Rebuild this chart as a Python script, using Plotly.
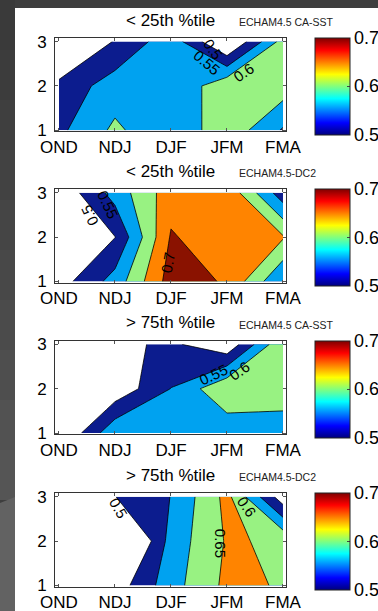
import plotly.graph_objects as go

W, H = 378, 611

# ---------------- data ----------------
seasons = ["OND", "NDJ", "DJF", "JFM", "FMA"]
x_vals = [1, 2, 3, 4, 5]
y_vals = [1, 2, 3]
y_ticktext = ["1", "2", "3"]

titles = ["< 25th %tile", "< 25th %tile", "> 75th %tile", "> 75th %tile"]
models = ["ECHAM4.5 CA-SST", "ECHAM4.5-DC2", "ECHAM4.5 CA-SST", "ECHAM4.5-DC2"]

# rows = y (1,2,3), columns = seasons
z_p25_casst = [
    [0.539, 0.610, 0.557, 0.635, 0.545],
    [0.517, 0.574, 0.551, 0.640, 0.627],
    [0.400, 0.505, 0.580, 0.435, 0.620],
]
z_p25_dc2 = [
    [0.477, 0.570, 0.723, 0.695, 0.550],
    [0.440, 0.499, 0.705, 0.667, 0.655],
    [0.460, 0.570, 0.678, 0.688, 0.520],
]
z_p75_casst = [
    [0.440, 0.590, 0.580, 0.563, 0.570],
    [0.430, 0.463, 0.551, 0.645, 0.630],
    [0.450, 0.487, 0.510, 0.460, 0.645],
]
z_p75_dc2 = [
    [0.420, 0.471, 0.580, 0.662, 0.646],
    [0.400, 0.370, 0.570, 0.655, 0.643],
    [0.350, 0.499, 0.551, 0.665, 0.470],
]
panels_z = [z_p25_casst, z_p25_dc2, z_p75_casst, z_p75_dc2]

level_start, level_end, level_step = 0.5, 0.7, 0.05
cbar_ticks = [0.5, 0.6, 0.7]
cbar_ticktext = ["0.5", "0.6", "0.7"]

# contour labels: (text, x, y, angle)
contour_labels = [
    [("0.5", 3.75, 2.81, 55), ("0.55", 3.64, 2.52, 40), ("0.6", 4.29, 2.31, -35)],
    [("0.5", 1.55, 2.50, -115), ("0.55", 1.87, 2.73, 65), ("0.7", 2.95, 1.42, -80)],
    [("0.55", 3.76, 2.31, -25), ("0.6", 4.23, 2.41, -35)],
    [("0.5", 2.07, 2.74, 60), ("0.65", 3.875, 1.94, 90), ("0.6", 4.35, 2.77, 55)],
]

# ---------------- styling ----------------
FONT = "Liberation Sans, Arial, sans-serif"
c_white, c_dblue, c_lblue, c_green, c_orange, c_dred = (
    "#ffffff", "#0c1c8e", "#00a2f0", "#98f282", "#ff8400", "#8a1200")
fill_scale = [
    [0.0, c_white], [0.1, c_white],
    [0.1, c_dblue], [0.3, c_dblue],
    [0.3, c_lblue], [0.5, c_lblue],
    [0.5, c_green], [0.7, c_green],
    [0.7, c_orange], [0.9, c_orange],
    [0.9, c_dred], [1.0, c_dred],
]
jet = [
    [0.0, "#00007f"], [0.125, "#0000ff"], [0.375, "#00ffff"],
    [0.625, "#ffff00"], [0.875, "#ff0000"], [1.0, "#7f0000"],
]

ax_left, ax_right = 55, 286
box_tops = [38, 189.2, 340.8, 493.2]
box_h = 93.3
cb_left, cb_w, cb_len = 315, 35, 97

def px_x(p):
    return p / W

def px_y(p):
    return 1 - p / H

fig = go.Figure()
layout_axes = {}
annotations = []
shapes = []

# background: dark slide + white panel
shapes.append(dict(type="rect", xref="paper", yref="paper", x0=0, x1=1, y0=0, y1=1,
                   fillcolor="#3e3e3e", line_width=0, layer="below"))
grad = ["#3a3a3a", "#3c3c3c", "#3f3f3f", "#424242", "#454545", "#484848",
        "#4b4b4b", "#4e4e4e", "#525252", "#555555"]
for i, col in enumerate(grad):
    shapes.append(dict(type="rect", xref="paper", yref="paper",
                       x0=0, x1=px_x(15), y0=px_y(50 * (i + 1)), y1=px_y(50 * i),
                       fillcolor=col, line_width=0, layer="below"))
shapes.append(dict(type="path", xref="paper", yref="paper",
                   path=f"M 0 {px_y(503)} L {px_x(15)} {px_y(497)} L {px_x(15)} 0 L 0 0 Z",
                   fillcolor="#626262", line_width=0, layer="below"))
shapes.append(dict(type="rect", xref="paper", yref="paper",
                   x0=px_x(15), x1=1, y0=0, y1=px_y(8),
                   fillcolor="white", line_width=0, layer="below"))

for k in range(4):
    xa = "xaxis" if k == 0 else f"xaxis{k+1}"
    ya = "yaxis" if k == 0 else f"yaxis{k+1}"
    xr = "x" if k == 0 else f"x{k+1}"
    yr = "y" if k == 0 else f"y{k+1}"
    top = box_tops[k]
    bot = top + box_h

    fig.add_trace(go.Contour(
        x=x_vals, y=y_vals, z=panels_z[k],
        autocontour=False,
        contours=dict(start=level_start, end=level_end, size=level_step,
                      coloring="fill", showlines=True),
        colorscale=fill_scale, showscale=False,
        line=dict(color="black", width=0.8, smoothing=0),
        xaxis=xr, yaxis=yr, hoverinfo="skip",
    ))
    # colorbar carrier (labels drawn as annotations so they can run off the edge)
    fig.add_trace(go.Scatter(
        x=[3], y=[50], mode="markers", xaxis=xr, yaxis=yr,
        showlegend=False, hoverinfo="skip",
        marker=dict(color=[level_start], cmin=level_start, cmax=level_end,
                    colorscale=jet, showscale=True, size=1,
                    colorbar=dict(
                        thickness=cb_w, thicknessmode="pixels",
                        len=cb_len, lenmode="pixels",
                        x=px_x(cb_left), xanchor="left",
                        y=px_y(top), yanchor="top",
                        xpad=0, ypad=0,
                        outlinecolor="#222", outlinewidth=1,
                        tickvals=cbar_ticks, showticklabels=False,
                        ticks="inside", ticklen=3, tickcolor="#444",
                    )),
    ))
    for tv, tt in zip(cbar_ticks, cbar_ticktext):
        frac = (tv - level_start) / (level_end - level_start)
        annotations.append(dict(text=tt, xref="paper", yref="paper",
                                x=px_x(cb_left + cb_w + 2), xanchor="left",
                                y=px_y(top + cb_len * (1 - frac)), yanchor="middle",
                                showarrow=False,
                                font=dict(family=FONT, size=18, color="black")))

    axis_common = dict(showline=True, linecolor="#333", linewidth=1, mirror="ticks",
                       ticks="inside", ticklen=3, tickcolor="#555", automargin=False,
                       showgrid=False, zeroline=False, fixedrange=True,
                       tickfont=dict(family=FONT, size=17, color="black"))
    layout_axes[xa] = dict(axis_common, domain=[px_x(ax_left), px_x(ax_right)],
                           range=[0.929, 5.054], tickvals=x_vals, ticktext=seasons,
                           anchor=yr, ticklabelstandoff=0)
    layout_axes[ya] = dict(axis_common, domain=[px_y(bot), px_y(top)],
                           range=[0.977, 3.08], tickvals=y_vals, ticktext=y_ticktext,
                           anchor=xr, ticklabelstandoff=4)

    annotations.append(dict(text=titles[k], xref="paper", yref="paper",
                            x=px_x(170.5), y=px_y(top - 18), xanchor="center", yanchor="middle",
                            showarrow=False, font=dict(family=FONT, size=17, color="black")))
    annotations.append(dict(text=models[k], xref="paper", yref="paper",
                            x=px_x(237), y=px_y(top - 16), xanchor="left", yanchor="middle",
                            showarrow=False, font=dict(family=FONT, size=10.5, color="#222")))
    for (t, lx, ly, ang) in contour_labels[k]:
        annotations.append(dict(text=t, x=lx, y=ly, xref=xr, yref=yr, showarrow=False,
                                textangle=ang, font=dict(family=FONT, size=15, color="black")))

fig.update_layout(
    width=W, height=H, margin=dict(l=0, r=0, t=0, b=0, autoexpand=False),
    paper_bgcolor="#3e3e3e", plot_bgcolor="white",
    showlegend=False, annotations=annotations, shapes=shapes,
    **layout_axes,
)

fig.write_html(
    "out.html",
    config={"displayModeBar": False},
    post_script="document.body.style.margin='0';document.body.style.overflow='hidden';",
)
